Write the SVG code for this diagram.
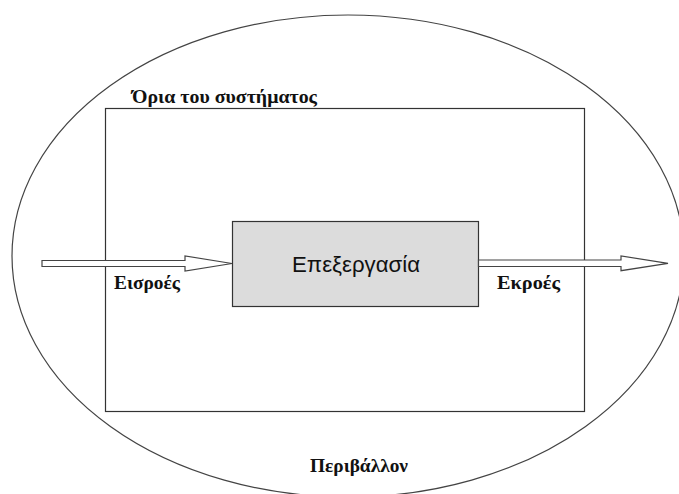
<svg xmlns="http://www.w3.org/2000/svg" width="679" height="494" viewBox="0 0 679 494">
<style>
.lbl{font-family:"Liberation Serif","Times New Roman",serif;font-weight:bold;fill:#111;}
.line{fill:none;stroke:#333;stroke-width:1.2;}
.arrow{fill:#fff;stroke:#444;stroke-width:1.2;stroke-linejoin:miter;}
</style>
<rect width="679" height="494" fill="#fff"/>
<g id="environment">
<ellipse cx="348" cy="256" rx="336" ry="241" fill="none" stroke="#444" stroke-width="1.2"/>
<text class="lbl" x="310" y="472" font-size="19" textLength="98" lengthAdjust="spacingAndGlyphs">Περιβάλλον</text>
</g>
<g id="system-boundary">
<rect class="line" x="105.5" y="108.5" width="479" height="303"/>
<text class="lbl" x="132" y="103" font-size="18.5" textLength="185" lengthAdjust="spacingAndGlyphs">Όρια του συστήματος</text>
</g>
<g id="processing">
<rect x="232.5" y="221.5" width="246" height="85" fill="#dcdcdc" stroke="#333" stroke-width="1.2"/>
<text x="292" y="272" font-family="Liberation Sans, Arial, sans-serif" font-size="21.5" textLength="128" lengthAdjust="spacingAndGlyphs" fill="#111">Επεξεργασία</text>
</g>
<g id="connectors">
<path class="arrow" d="M42,260.5 L185,260.5 L185,256 L232,263.5 L185,271 L185,266.5 L42,266.5 Z"/>
<path class="arrow" d="M478.5,260 L621,260 L621,256 L668,263.3 L621,270.7 L621,266.5 L478.5,266.5 Z"/>
</g>
<g id="labels">
<text class="lbl" x="114" y="289" font-size="18.5" textLength="66" lengthAdjust="spacingAndGlyphs">Εισροές</text>
<text class="lbl" x="497" y="289" font-size="18.5" textLength="63" lengthAdjust="spacingAndGlyphs">Εκροές</text>
</g>
</svg>
